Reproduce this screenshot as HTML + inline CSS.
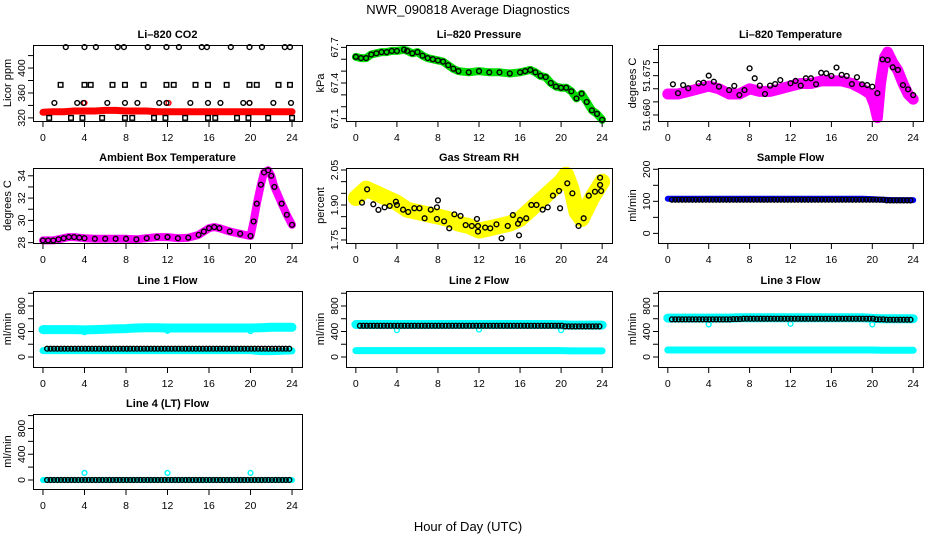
<!DOCTYPE html>
<html><head><meta charset="utf-8">
<style>
html,body{margin:0;padding:0;background:#fff;}
svg{display:block;font-family:"Liberation Sans",sans-serif;}
</style></head>
<body>
<svg id="chart" width="936" height="540" viewBox="0 0 936 540" xmlns="http://www.w3.org/2000/svg">
<rect x="0" y="0" width="936" height="540" fill="#fff"/>
<text x="468" y="14" text-anchor="middle" font-size="13">NWR_090818  Average Diagnostics</text>
<text x="468" y="531" text-anchor="middle" font-size="13">Hour of Day (UTC)</text>
</svg>
<script>
// ---- data ----
const co2BandHours=[0,1,2,3,4,5,6,7,8,9,10,11,12,13,14,15,16,17,18,19,20,21,22,23,24];
const co2BandVals=[329,330,330,331,331,331,332,332,331,331,331,330,330,330,330,330,330,330,330,330,330,330,330,330,330];
const co2HiHours=[2.2,4.0,5.1,7.2,7.8,10.1,11.9,13.1,15.3,15.8,18.1,19.9,21.1,23.3,23.8];
const co2MidHours=[1.7,4.0,4.6,6.7,7.9,9.7,11.9,12.6,14.7,15.9,17.7,19.9,20.6,22.7,23.8];
const co2LowHours=[1.1,3.3,3.9,6.2,7.9,9.1,11.2,11.9,14.2,15.9,17.1,19.3,19.9,22.2,23.9];
const co2MinHours=[0.6,2.7,3.8,5.7,7.9,8.6,10.7,11.8,13.7,15.9,16.6,18.7,19.8,21.7,24.0];
const co2Levels=[433.6,373,344,320];
const co2RedOutHours=[4.0,12.1,19.9];
const co2RedOutVals=[344,344,344];

const presHours=[0,0.5,1,1.5,2,2.5,3,3.5,4,4.7,5,5.5,6,6.5,7,7.5,8,8.5,9,9.5,10,11,12,13,14,15,16,16.5,17,17.5,18,18.5,19,19.5,20,20.5,21,21.5,22,22.5,23,23.5,24];
const presVals=[67.62,67.61,67.61,67.64,67.65,67.66,67.66,67.67,67.67,67.68,67.67,67.65,67.66,67.63,67.61,67.60,67.59,67.58,67.55,67.52,67.50,67.49,67.50,67.49,67.49,67.48,67.49,67.50,67.51,67.49,67.46,67.45,67.40,67.37,67.36,67.36,67.33,67.27,67.31,67.24,67.17,67.14,67.09];

const tempHours=[0,1,2,3,4,5,6,7,8,9,10,11,12,13,14,15,16,17,18,19,19.8,20.2,20.5,20.8,21.2,21.5,22,22.5,23,23.5,24];
const tempVals=[51.668,51.668,51.669,51.670,51.671,51.670,51.668,51.668,51.670,51.669,51.669,51.670,51.671,51.672,51.672,51.673,51.673,51.673,51.672,51.670,51.668,51.664,51.659,51.672,51.682,51.684,51.680,51.677,51.672,51.668,51.666];
const tempAvgHours=[0.5,1,1.5,2,3,3.5,4,4.5,5,6,6.5,7,7.5,8,8.5,9,9.5,10,10.5,11,12,12.5,13,13.5,14,14.5,15,15.5,16,16.5,17,17.5,18,18.5,19,19.5,20,20.5,21,21.5,22,22.5,23,23.5,24];
const tempAvgVals=[51.6717,51.6683,51.6714,51.6702,51.6721,51.6723,51.675,51.6727,51.6708,51.6695,51.6711,51.6676,51.6695,51.6778,51.674,51.6712,51.668,51.6712,51.6718,51.6733,51.6721,51.673,51.6712,51.674,51.674,51.6717,51.6761,51.6759,51.6749,51.6781,51.6753,51.6749,51.6718,51.6744,51.6717,51.6714,51.6708,51.6683,51.6812,51.681,51.6782,51.6772,51.6714,51.6698,51.6676];

const ambHours=[0,0.5,1,1.5,2,2.5,3,3.5,4,5,6,7,8,9,10,11,12,13,14,15,15.5,16,16.5,17,18,19,20,20.3,20.6,21,21.3,21.7,22,22.3,23,23.5,24];
const ambVals=[28.2,28.2,28.2,28.3,28.4,28.5,28.5,28.45,28.4,28.35,28.35,28.35,28.35,28.3,28.4,28.5,28.5,28.4,28.45,28.7,29.0,29.3,29.4,29.3,29.0,28.8,28.6,29.9,31.5,33.2,34.3,34.5,34.0,33.0,31.5,30.5,29.6];

const rhHours=[0,1,2,3,4,5,6,7,8,9,10,11,12,13,14,15,16,17,18,19,20,20.5,21,21.5,22,23,24];
const rhVals=[1.93,1.97,1.95,1.93,1.91,1.88,1.87,1.86,1.85,1.84,1.82,1.81,1.79,1.80,1.81,1.82,1.84,1.88,1.92,1.96,2.00,2.03,1.97,1.87,1.84,1.93,2.0];
const rhAvgHours=[0.6,1.1,1.7,2.2,2.8,3.3,3.9,4,4.6,5.1,5.7,6.2,6.7,7.3,7.9,8,7.9,8.6,9.1,9.6,10.2,10.7,11.3,11.8,11.9,11.9,12.6,13.1,13.7,14.2,14.8,15.3,15.8,15.9,16,16.6,17.1,17.6,18.2,18.7,19.2,19.8,19.9,20.6,21.1,21.7,22.2,22.7,23.3,23.8,23.8,23.9];
const rhAvgVals=[1.91,1.967,1.903,1.879,1.89,1.896,1.914,1.9,1.88,1.87,1.886,1.886,1.843,1.88,1.89,1.92,1.84,1.83,1.80,1.86,1.853,1.814,1.81,1.84,1.786,1.81,1.803,1.80,1.817,1.757,1.81,1.857,1.82,1.77,1.836,1.843,1.9,1.9,1.88,1.89,1.94,1.96,1.886,1.993,1.95,1.81,1.843,1.94,1.957,2.017,1.986,1.96];

const hourly=[0,1,2,3,4,5,6,7,8,9,10,11,12,13,14,15,16,17,18,19,20,21,22,23,24];
const sampleBand=[108,108,108,108,108,108,108,108,108,108,108,108,108,108,108,108,108,108,108,108,107,105,104,104,104];
const sampleAvg=[105,105,105,105,105,105,105,105,105,105,105,105,105,105,105,105,105,105,105,105,105,103,103,103,103];

const line1Hi=[430,430,430,430,425,430,435,440,445,455,460,460,455,455,455,455,455,455,455,455,455,460,465,465,465];
const line1Lo=[100,100,100,100,100,100,100,100,100,100,100,100,100,100,100,100,100,100,100,100,100,85,85,90,95];
const line1Avg=[130,130,130,130,130,130,130,130,130,130,130,130,130,130,130,130,130,130,130,130,130,130,130,130,130];
const line2Hi=[510,510,510,510,510,510,510,510,510,510,510,510,510,510,510,510,510,510,510,510,505,500,500,500,500];
const line2Lo=[100,100,100,100,100,100,100,100,100,100,100,100,100,100,100,100,100,100,100,100,100,95,95,95,95];
const line2Avg=[490,490,490,490,490,490,490,490,490,490,490,490,490,490,490,490,490,490,490,490,480,480,480,480,480];
const line3Hi=[610,610,610,610,610,610,610,615,615,615,615,615,615,615,615,615,615,615,615,615,605,600,600,600,600];
const line3Lo=[110,110,110,110,110,110,110,110,110,110,110,110,110,110,110,110,110,110,110,110,110,105,105,105,105];
const line3Avg=[590,590,590,590,590,590,595,600,600,600,600,600,600,600,600,600,600,600,600,600,590,585,585,585,585];
const line4Band=[0,0,0,0,0,0,0,0,0,0,0,0,0,0,0,0,0,0,0,0,0,0,0,0,0];
const line4Avg=[0,0,0,0,0,0,0,0,0,0,0,0,0,0,0,0,0,0,0,0,0,0,0,0,0];
const outHours=[4,12,20];
const line1Out=[390,410,405];
const line2Out=[420,430,420];
const line3Out=[510,520,510];
const line4Out=[110,110,110];

const xTicks=[0,4,8,12,16,20,24];

// ---- drawing ----
const NS="http://www.w3.org/2000/svg";
const svg=document.getElementById('chart');
function mk(tag,attrs,parent){const e=document.createElementNS(NS,tag);for(const k in attrs)e.setAttribute(k,attrs[k]);(parent||svg).appendChild(e);return e;}

function panel(name,title,box,ylim,yticks,ylabels,fmt,ytitle){
  const g=mk('g',{});
  
  
  const [x0,x1,y0,y1]=box;
  const sx=h=>x0+(h+0.96)/25.92*(x1-x0);
  const sy=v=>y1-(v-ylim[0])/(ylim[1]-ylim[0])*(y1-y0);
  const t=mk('text',{x:(x0+x1)/2,y:y0-7,'text-anchor':'middle','font-size':'11','font-weight':'bold'},g);
  t.textContent=title;
  
  
  const plot=mk('g',{},g);
  
  
  const ax=mk('g',{stroke:'#000','stroke-width':'1',fill:'none'},g);
  
  
  mk('rect',{x:x0+0.5,y:y0+0.5,width:x1-x0,height:y1-y0},ax);
  xTicks.forEach(h=>{
    mk('line',{x1:sx(h),x2:sx(h),y1:y1+0.5,y2:y1+6},ax);
    const l=mk('text',{x:sx(h),y:y1+20,'text-anchor':'middle','font-size':'10.5',fill:'#000',stroke:'none'},g);
    l.textContent=h;
    
    
  });
  yticks.forEach(v=>{mk('line',{x1:x0-5,x2:x0+0.5,y1:sy(v),y2:sy(v)},ax);});
  ylabels.forEach(v=>{
    const yy=sy(v);
    const l=mk('text',{x:0,y:0,'text-anchor':'middle','font-size':'10.5',transform:`translate(${x0-8},${yy}) rotate(-90)`},g);
    l.textContent=fmt(v);
    
    
  });
  const yt=mk('text',{x:0,y:0,'text-anchor':'middle','font-size':'11',transform:`translate(${x0-22},${(y0+y1)/2}) rotate(-90)`},g);
  yt.textContent=ytitle;
  
  
  return {sx,sy,plot};
}
function band(p,hours,vals,color,w,name){
  const pts=hours.map((h,i)=>p.sx(h).toFixed(1)+','+p.sy(vals[i]).toFixed(1)).join(' ');
  const l=mk('polyline',{points:pts,fill:'none',stroke:color,'stroke-width':w,'stroke-linejoin':'round','stroke-linecap':'round'},p.plot);
  
  
}
function pts(p,hours,vals,color,name,r,sq){
  hours.forEach((h,i)=>{
    let e;
    if(sq){e=mk('rect',{x:p.sx(h)-2.3,y:p.sy(vals[i])-2.3,width:4.6,height:4.6,fill:'none',stroke:color,'stroke-width':'1.4'},p.plot);}
    else{e=mk('circle',{cx:p.sx(h),cy:p.sy(vals[i]),r:r||2.4,fill:'none',stroke:color,'stroke-width':'1.4'},p.plot);}
    
    
  });
}
function thirds(p,hours,vals,color,name){
  const hh=[],vv=[];
  for(let i=0;i<hours.length-1;i++){for(let k=0;k<3;k++){const h=hours[i]+0.4+k/3;if(h<=23.95){hh.push(h);vv.push(vals[i]);}}}
  pts(p,hh,vv,color,name);
}
const f0=v=>String(v), f1=v=>v.toFixed(1), f2=v=>v.toFixed(2), f3=v=>v.toFixed(3);
const C1=[33,302],C2=[346,612],C3=[658,923];
const R1=[45,121],R2=[168,243],R3=[291,367],R4=[414,489];
const flowTicks=[0,200,400,600,800,1000], flowLabels=[0,400,800];

// CO2
let p=panel('co2','Li\u2013820 CO2',[...C1,...R1],[315,437],[320,340,360,380,400,420],[320,360,400],f0,'Licor ppm');
band(p,co2BandHours,co2BandVals,'#ff0000',7,'co2-series');
pts(p,co2RedOutHours,co2RedOutVals,'#ff0000','co2-outlier');
pts(p,co2HiHours,co2HiHours.map(()=>co2Levels[0]),'#000','co2-avg-point');
pts(p,co2MidHours,co2MidHours.map(()=>co2Levels[1]),'#000','co2-avg-point',0,true);
pts(p,co2LowHours,co2LowHours.map(()=>co2Levels[2]),'#000','co2-avg-point');
pts(p,co2MinHours,co2MinHours.map(()=>co2Levels[3]),'#000','co2-avg-point',0,true);

// Pressure
p=panel('pressure','Li\u2013820 Pressure',[...C2,...R1],[67.08,67.72],[67.1,67.2,67.3,67.4,67.5,67.6,67.7],[67.1,67.4,67.7],f1,'kPa');
band(p,presHours,presVals,'#00dd00',8,'pressure-series');
pts(p,presHours,presVals,'#000','pressure-avg-point');

// Temperature
p=panel('li820-temperature','Li\u2013820 Temperature',[...C3,...R1],[51.6577,51.6867],[51.660,51.665,51.670,51.675,51.680,51.685],[51.660,51.675],f3,'degrees C');
band(p,tempHours,tempVals,'#ff00ff',11,'temperature-series');
pts(p,tempAvgHours,tempAvgVals,'#000','temperature-avg-point');

// Ambient
p=panel('ambient-box-temperature','Ambient Box Temperature',[...C1,...R2],[27.97,34.7],[28,29,30,31,32,33,34],[28,30,32,34],f0,'degrees C');
band(p,ambHours,ambVals,'#ff00ff',8,'ambient-series');
pts(p,ambHours,ambVals,'#000','ambient-avg-point');

// RH
p=panel('gas-stream-rh','Gas Stream RH',[...C2,...R2],[1.737,2.0586],[1.75,1.80,1.85,1.90,1.95,2.00,2.05],[1.75,1.90,2.05],f2,'percent');
band(p,rhHours,rhVals,'#ffff00',16,'rh-series');
pts(p,rhAvgHours,rhAvgVals,'#000','rh-avg-point');

// Sample flow
p=panel('sample-flow','Sample Flow',[...C3,...R2],[-30,204],[0,50,100,150,200],[0,100,200],f0,'ml/min');
band(p,hourly,sampleBand,'#0000ff',6,'sample-flow-series');
thirds(p,hourly,sampleAvg,'#000','sample-flow-avg-point');

// Line flows
p=panel('line-1-flow','Line 1 Flow',[...C1,...R3],[-157,1035],flowTicks,flowLabels,f0,'ml/min');
band(p,hourly,line1Hi,'#00ffff',9,'line-1-high-series');
band(p,hourly,line1Lo,'#00ffff',7,'line-1-low-series');
pts(p,outHours,line1Out,'#00ffff','line-1-outlier');
thirds(p,hourly,line1Avg,'#000','line-1-avg-point');

p=panel('line-2-flow','Line 2 Flow',[...C2,...R3],[-157,1035],flowTicks,flowLabels,f0,'ml/min');
band(p,hourly,line2Hi,'#00ffff',9,'line-2-high-series');
band(p,hourly,line2Lo,'#00ffff',7,'line-2-low-series');
pts(p,outHours,line2Out,'#00ffff','line-2-outlier');
thirds(p,hourly,line2Avg,'#000','line-2-avg-point');

p=panel('line-3-flow','Line 3 Flow',[...C3,...R3],[-157,1035],flowTicks,flowLabels,f0,'ml/min');
band(p,hourly,line3Hi,'#00ffff',9,'line-3-high-series');
band(p,hourly,line3Lo,'#00ffff',7,'line-3-low-series');
pts(p,outHours,line3Out,'#00ffff','line-3-outlier');
thirds(p,hourly,line3Avg,'#000','line-3-avg-point');

p=panel('line-4-flow','Line 4 (LT) Flow',[...C1,...R4],[-140,1025],flowTicks,flowLabels,f0,'ml/min');
band(p,hourly,line4Band,'#00ffff',6,'line-4-series');
pts(p,outHours,line4Out,'#00ffff','line-4-outlier');
thirds(p,hourly,line4Avg,'#000','line-4-avg-point');
</script>
</body></html>
